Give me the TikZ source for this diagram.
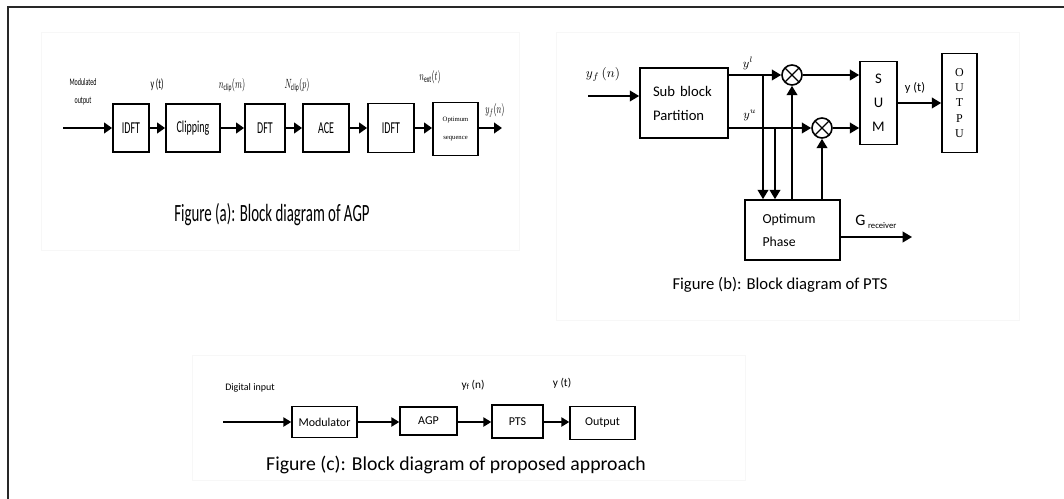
\documentclass[tikz,border=0pt]{standalone}
\usepackage{fontspec}
\setmainfont{Carlito}
\newfontfamily\timesfont{Liberation Serif}
\usetikzlibrary{arrows.meta, positioning, calc}
\definecolor{frameline}{RGB}{40,40,40}
\definecolor{panelgray}{RGB}{247,247,247}
\newcommand{\px}{0.75pt}
\newcommand{\cond}[1]{\scalebox{0.6}[1]{#1}}
\tikzset{
  boxa/.style={draw, line width=1.4pt, inner sep=0pt, minimum height=48*\px, font=\fontsize{12.5}{14}\selectfont},
  boxb/.style={draw, line width=1.2pt, inner sep=0pt},
  boxc/.style={draw, line width=1.1pt, inner sep=0pt, minimum height=31*\px, font=\fontsize{9}{11}\selectfont},
  arra/.style={line width=1.9pt, -{Triangle[length=6pt, width=8pt]}},
  arrb/.style={line width=1.3pt, -{Triangle[length=7pt, width=8pt]}},
  arrc/.style={line width=1.2pt, -{Triangle[length=6pt, width=7pt]}},
  mult/.style={circle, draw, line width=1.2pt, minimum size=20*\px, inner sep=0pt,
    path picture={\draw[line width=1pt] (path picture bounding box.north west) -- (path picture bounding box.south east)
      (path picture bounding box.north east) -- (path picture bounding box.south west);}},
  lbl/.style={inner sep=0pt}
}
\begin{document}
\begin{tikzpicture}[x=0.75pt, y=-0.75pt]
\useasboundingbox (0,0) rectangle (1064,499);
% frame and faint panels
\draw[panelgray] (41,32) rectangle (519,250);
\draw[panelgray] (556,32) rectangle (1019,320);
\draw[panelgray] (192,355) rectangle (745,480);
\draw[frameline, line width=1.6pt] (8,499) -- (8,7) -- (1064,7);

% ---- Figure (a): AGP
\node[boxa, minimum width=36*\px] (idftA) at (131,128) {\cond{IDFT}};
\node[boxa, minimum width=54*\px] (clip) at (193,128) {\cond{Clipping}};
\node[boxa, minimum width=40*\px] (dft) at (265,128) {\cond{DFT}};
\node[boxa, minimum width=46*\px] (ace) at (326,128) {\cond{ACE}};
\node[boxa, minimum width=46*\px, minimum height=49*\px] (idftB) at (391,128) {\cond{IDFT}};
\node[boxa, minimum width=45*\px, minimum height=53*\px, align=center,
      font=\timesfont\fontsize{5}{14}\selectfont] (optseq) at (455.5,129) {Optimum\\sequence};
\coordinate (inA) at (63,128);
\coordinate (outA) at (502,128);
\draw[arra] (inA) -- (idftA);
\draw[arra] (idftA) -- (clip);
\draw[arra] (clip) -- (dft);
\draw[arra] (dft) -- (ace);
\draw[arra] (ace) -- (idftB);
\draw[arra] (idftB) -- (optseq.west |- idftB);
\draw[arra] (optseq.east |- outA) -- (outA);
\node[lbl, align=center, font=\fontsize{7.5}{14}\selectfont] (modlab) at (83,92) {\cond{Modulated}\\\cond{output}};
\node[lbl, font=\fontsize{10}{12}\selectfont] (ytA) at (157,85) {\cond{y (t)}};
\node[lbl, font=\fontsize{10}{12}\selectfont] (nclip) at (232,85) {\cond{$n_{\mathrm{clip}}(m)$}};
\node[lbl, font=\fontsize{10}{12}\selectfont] (Nclip) at (297,85) {\cond{$N_{\mathrm{clip}}(p)$}};
\node[lbl, font=\fontsize{10}{12}\selectfont] (next) at (430,77) {\cond{$n_{\mathrm{ext}}(t)$}};
\node[lbl, font=\fontsize{10}{12}\selectfont] (yfA) at (495,110) {\cond{$y_f(n)$}};
\node[lbl, font=\fontsize{18.6}{20}\selectfont] (capA) at (272,215) {\cond{Figure (a): Block diagram of AGP}};

% ---- Figure (b): PTS
\node[boxb, minimum width=88*\px, minimum height=70*\px, align=left, text width=62*\px,
      font=\fontsize{11}{18}\selectfont] (sub) at (684,103) {Sub block\\Partition};
\node[mult] (mul1) at (792,75) {};
\node[mult] (mul2) at (822,128) {};
\node[boxb, minimum width=37*\px, minimum height=83*\px, align=center,
      font=\fontsize{11}{18}\selectfont] (sum) at (878.5,103) {S\\U\\M};
\node[boxb, minimum width=35*\px, minimum height=99*\px, align=center,
      font=\timesfont\fontsize{9}{11.5}\selectfont] (outpu) at (959.5,103) {O\\U\\T\\P\\U};
\node[boxb, minimum width=95*\px, minimum height=60*\px, align=left, text width=60*\px,
      font=\fontsize{10.3}{17}\selectfont] (optph) at (792.5,230) {Optimum\\Phase};
\coordinate (inB) at (588,96);
\coordinate (j1) at (763,75);
\coordinate (j2) at (775,128);
\coordinate (gout) at (912,237);
\draw[arrb] (inB) -- (inB -| sub.west);
\draw[arrb] (sub.east |- mul1) -- (mul1);
\draw[arrb] (sub.east |- mul2) -- (mul2);
\draw[arrb] (mul1) -- (mul1 -| sum.west);
\draw[arrb] (mul2) -- (mul2 -| sum.west);
\draw[arrb] (sum) -- (outpu);
\draw[arrb] (j1) -- (j1 |- optph.north);
\draw[arrb] (j2) -- (j2 |- optph.north);
\draw[arrb] (optph.north -| mul1) -- (mul1);
\draw[arrb] (optph.north -| mul2) -- (mul2);
\draw[arrb] (optph.east |- gout) -- (gout);
\node[lbl, font=\fontsize{10}{12}\selectfont] (yfB) at (603,74) {$y_f\,(n)$};
\node[lbl, font=\fontsize{9}{11}\selectfont] (yl) at (748,63) {$y^{l}$};
\node[lbl, font=\fontsize{9}{11}\selectfont] (yu) at (750,115) {$y^{u}$};
\node[lbl, font=\fontsize{9.3}{11}\selectfont] (ytB) at (915,88) {y (t)};
\node[lbl, anchor=west] (grec) at (855,222) {\fontsize{12}{14}\selectfont G\,\raisebox{-2pt}{\fontsize{6.5}{8}\selectfont receiver}};
\node[lbl, font=\fontsize{12.5}{14}\selectfont] (capB) at (780,285) {Figure (b): Block diagram of PTS};

% ---- Figure (c): proposed approach
\node[boxc, minimum width=65*\px] (modu) at (324.5,422) {Modulator};
\node[boxc, minimum width=57*\px, minimum height=28*\px] (agp) at (428.5,421) {AGP};
\node[boxc, minimum width=51*\px, minimum height=33*\px] (pts) at (517.5,421.5) {PTS};
\node[boxc, minimum width=65*\px, minimum height=33*\px] (outp) at (602.5,423) {Output};
\coordinate (inC) at (223,422);
\draw[arrc] (inC) -- (inC -| modu.west);
\draw[arrc] (modu.east |- inC) -- (inC -| agp.west);
\draw[arrc] (agp.east |- inC) -- (inC -| pts.west);
\draw[arrc] (pts.east |- inC) -- (inC -| outp.west);
\node[lbl, font=\fontsize{7.5}{9}\selectfont] (digin) at (250,388) {Digital input};
\node[lbl, font=\fontsize{8.5}{10}\selectfont] (yfC) at (473,385) {y\textsubscript{f}\,(n)};
\node[lbl, font=\fontsize{8.5}{10}\selectfont] (ytC) at (562,383) {y (t)};
\node[lbl, font=\fontsize{14.8}{16}\selectfont] (capC) at (456,465) {Figure (c): Block diagram of proposed approach};
\end{tikzpicture}
\end{document}
